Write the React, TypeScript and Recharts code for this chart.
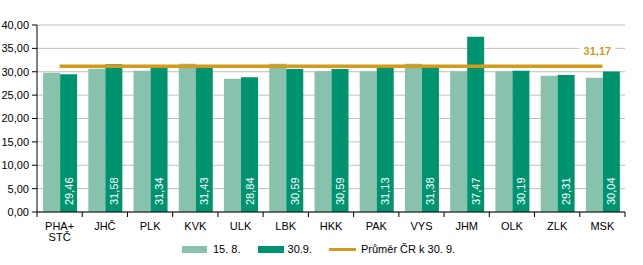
import React from "react"
import { ComposedChart, Bar, Line, XAxis, YAxis, CartesianGrid, Legend, LabelList } from "recharts"

const categories = ["PHA+\nSTČ", "JHČ", "PLK", "KVK", "ULK", "LBK", "HKK", "PAK", "VYS", "JHM", "OLK", "ZLK", "MSK"]
const aug15 = [29.8, 30.65, 30.2, 31.7, 28.5, 31.7, 30.1, 30.1, 31.7, 30.1, 30.1, 29.15, 28.7]
const sep30 = [29.46, 31.58, 31.34, 31.43, 28.84, 30.59, 30.59, 31.13, 31.38, 37.47, 30.19, 29.31, 30.04]
const avgCR = 31.17
const yTicks = [0, 5, 10, 15, 20, 25, 30, 35, 40]

const LIGHT = "#88C1AC"
const DARK = "#009370"
const GOLD = "#D49A1A"
const FONT = "'Liberation Sans', Arial, sans-serif"

const W = 643
const H = 265
const MARGIN = { top: 25, right: 18, left: 0, bottom: 6 }
const Y_W = 37
const BAND = (W - MARGIN.left - MARGIN.right - Y_W) / categories.length

const data = categories.map((c, i) => ({ name: c, a: aug15[i], s: sep30[i], avg: avgCR }))

const fmt = (v: number) => v.toFixed(2).replace(".", ",")

function XTick(props: any) {
  const { x, y, payload, index } = props
  const lines = String(payload.value).split("\n")
  return (
    <g>
      <line x1={x - BAND / 2} x2={x - BAND / 2} y1={y} y2={y + 5} stroke="#000" />
      {index === categories.length - 1 && <line x1={x + BAND / 2} x2={x + BAND / 2} y1={y} y2={y + 5} stroke="#000" />}
      <text x={x} y={y + 18} textAnchor="middle" fontSize={11} fill="#000" fontFamily={FONT}>
        {lines.map((l, i) => (
          <tspan key={i} x={x} dy={i === 0 ? 0 : 11}>{l}</tspan>
        ))}
      </text>
    </g>
  )
}

function BarValue(props: any) {
  const vb = props.viewBox || {}
  const x = (vb.x ?? props.x) + (vb.width ?? props.width) / 2
  const bottom = (vb.y ?? props.y) + (vb.height ?? props.height)
  const ty = bottom - 7
  return (
    <text x={x} y={ty} transform={`rotate(-90 ${x} ${ty})`} dy={4} textAnchor="start" fontSize={11} fill="#fff" fontFamily={FONT}>
      {fmt(Number(props.value))}
    </text>
  )
}

function AvgLabel(props: any) {
  if (props.index !== categories.length - 1) return null
  const vb = props.viewBox || {}
  const x = (vb.x ?? props.x) - 5
  const y = (vb.y ?? props.y) - 15
  return (
    <g>
      <rect x={x - 18} y={y - 8} width={36} height={15} fill="#fff" />
      <text x={x} y={y + 4} textAnchor="middle" fontSize={11} fontWeight="bold" fill={GOLD} fontFamily={FONT}>
        {fmt(avgCR)}
      </text>
    </g>
  )
}

function CustomLegend() {
  const item: React.CSSProperties = { display: "flex", alignItems: "center" }
  return (
    <div style={{ display: "flex", alignItems: "center", height: 20, paddingLeft: 182, fontFamily: FONT, fontSize: 11, color: "#000" }}>
      <div style={item}>
        <span style={{ width: 25, height: 7, background: LIGHT, marginRight: 6 }} />
        <span>15. 8.</span>
      </div>
      <div style={{ ...item, marginLeft: 17 }}>
        <span style={{ width: 26, height: 7, background: DARK, marginRight: 4 }} />
        <span>30.9.</span>
      </div>
      <div style={{ ...item, marginLeft: 17 }}>
        <span style={{ width: 27, height: 3, background: GOLD, marginRight: 5 }} />
        <span>Průměr ČR k 30. 9.</span>
      </div>
    </div>
  )
}

export default function App() {
  return (
    <div style={{ position: "absolute", left: 0, top: 0, width: W, height: H, background: "#fff" }}>
      <ComposedChart width={W} height={H} data={data} margin={MARGIN} barCategoryGap="13.5%" barGap={0}>
        <CartesianGrid vertical={false} stroke="#BFBFBF" />
        <XAxis
          dataKey="name"
          interval={0}
          axisLine={{ stroke: "#000" }}
          tickLine={false}
          tickSize={0}
          tickMargin={0}
          height={27}
          tick={<XTick />}
        />
        <YAxis
          width={Y_W}
          domain={[0, 40]}
          ticks={yTicks}
          interval={0}
          tickFormatter={fmt}
          axisLine={{ stroke: "#000" }}
          tickLine={{ stroke: "#000" }}
          tickSize={5}
          tickMargin={3}
          tick={{ fontSize: 11, fill: "#000", fontFamily: FONT }}
        />
        <Legend verticalAlign="bottom" height={20} content={() => <CustomLegend />} />
        <Bar dataKey="a" fill={LIGHT} isAnimationActive={false} />
        <Bar dataKey="s" fill={DARK} isAnimationActive={false}>
          <LabelList dataKey="s" content={<BarValue />} />
        </Bar>
        <Line dataKey="avg" stroke={GOLD} strokeWidth={3.4} dot={false} activeDot={false} isAnimationActive={false}>
          <LabelList dataKey="avg" content={<AvgLabel />} />
        </Line>
      </ComposedChart>
    </div>
  )
}
